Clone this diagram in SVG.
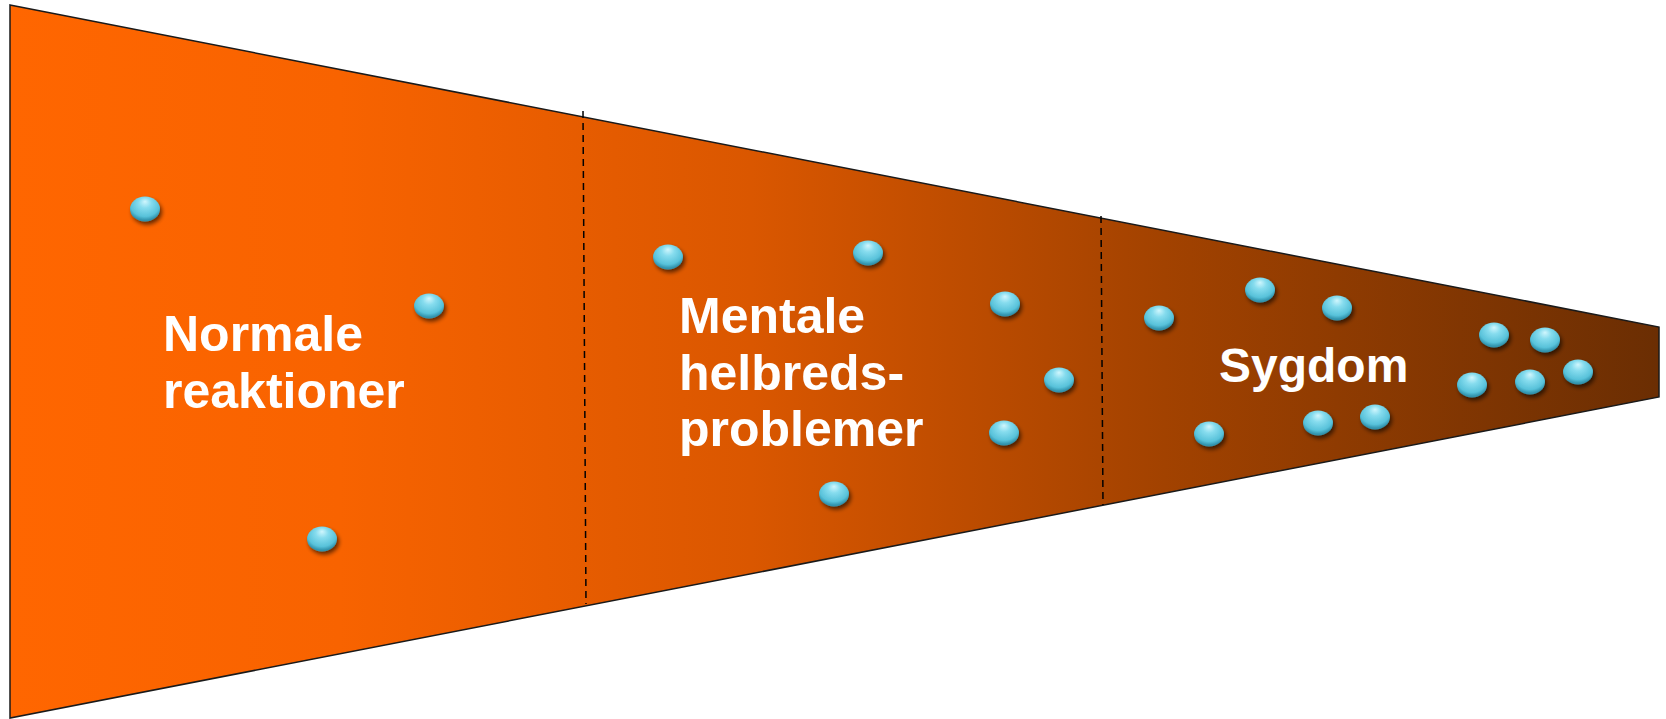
<svg xmlns="http://www.w3.org/2000/svg" width="1666" height="719" viewBox="0 0 1666 719">
<defs>
<linearGradient id="funnelGrad" gradientUnits="userSpaceOnUse" x1="10" y1="0" x2="1659" y2="0">
<stop offset="0" stop-color="#FF6600"/>
<stop offset="0.2" stop-color="#F86300"/>
<stop offset="0.45" stop-color="#DA5700"/>
<stop offset="0.7" stop-color="#A24200"/>
<stop offset="1" stop-color="#6B2E03"/>
</linearGradient>
<radialGradient id="dotGrad" cx="0.5" cy="0.35" r="0.6" fx="0.5" fy="0.2">
<stop offset="0" stop-color="#D0F6FD"/>
<stop offset="0.35" stop-color="#86DCEE"/>
<stop offset="0.8" stop-color="#58C2DA"/>
<stop offset="1" stop-color="#3192AC"/>
</radialGradient>
<filter id="dotShadow" x="-50%" y="-50%" width="200%" height="200%">
<feGaussianBlur in="SourceAlpha" stdDeviation="2"/>
<feOffset dx="2" dy="3" result="b"/>
<feComponentTransfer><feFuncA type="linear" slope="0.6"/></feComponentTransfer>
<feMerge><feMergeNode/><feMergeNode in="SourceGraphic"/></feMerge>
</filter>
<style>
.label{font-family:"Liberation Sans",Arial,sans-serif;font-weight:bold;font-size:50px;fill:#FFFFFF;}
.divider{stroke:#000;stroke-width:1.5;stroke-dasharray:7,5;fill:none;}
.dot{fill:url(#dotGrad);filter:url(#dotShadow);}
</style>
</defs>
<g id="funnel">
<polygon points="10,5 1659,327 1659,397 10,718" fill="url(#funnelGrad)" stroke="#1a1a1a" stroke-width="1.5"/>
</g>
<g id="connectors">
<line class="divider" x1="583" y1="111" x2="586" y2="604"/>
<line class="divider" x1="1101" y1="216" x2="1103" y2="505"/>
</g>
<g id="node-normale">
<text class="label" x="163" y="351">Normale</text>
<text class="label" x="163" y="408">reaktioner</text>
</g>
<g id="node-mentale">
<text class="label" x="679" y="333">Mentale</text>
<text class="label" x="679" y="390">helbreds-</text>
<text class="label" x="679" y="446">problemer</text>
</g>
<g id="node-sygdom">
<text class="label" x="1219" y="382" style="font-size:48px">Sygdom</text>
</g>
<g id="dots">
<ellipse class="dot" cx="145" cy="209" rx="15" ry="12.5"/>
<ellipse class="dot" cx="429" cy="306" rx="15" ry="12.5"/>
<ellipse class="dot" cx="322" cy="539" rx="15" ry="12.5"/>
<ellipse class="dot" cx="668" cy="257" rx="15" ry="12.5"/>
<ellipse class="dot" cx="868" cy="253" rx="15" ry="12.5"/>
<ellipse class="dot" cx="1005" cy="304" rx="15" ry="12.5"/>
<ellipse class="dot" cx="1059" cy="380" rx="15" ry="12.5"/>
<ellipse class="dot" cx="1004" cy="433" rx="15" ry="12.5"/>
<ellipse class="dot" cx="834" cy="494" rx="15" ry="12.5"/>
<ellipse class="dot" cx="1159" cy="318" rx="15" ry="12.5"/>
<ellipse class="dot" cx="1260" cy="290" rx="15" ry="12.5"/>
<ellipse class="dot" cx="1337" cy="308" rx="15" ry="12.5"/>
<ellipse class="dot" cx="1209" cy="434" rx="15" ry="12.5"/>
<ellipse class="dot" cx="1318" cy="423" rx="15" ry="12.5"/>
<ellipse class="dot" cx="1375" cy="417" rx="15" ry="12.5"/>
<ellipse class="dot" cx="1494" cy="335" rx="15" ry="12.5"/>
<ellipse class="dot" cx="1545" cy="340" rx="15" ry="12.5"/>
<ellipse class="dot" cx="1472" cy="385" rx="15" ry="12.5"/>
<ellipse class="dot" cx="1530" cy="382" rx="15" ry="12.5"/>
<ellipse class="dot" cx="1578" cy="372" rx="15" ry="12.5"/>
</g>
</svg>
